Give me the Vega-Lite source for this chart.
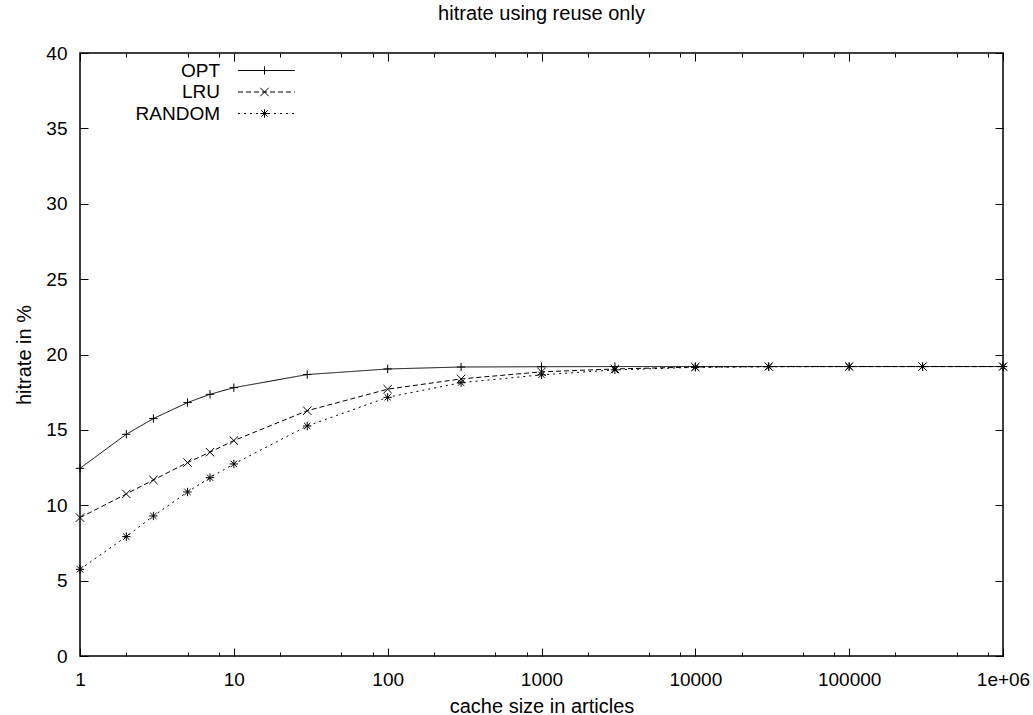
{
  "$schema": "https://vega.github.io/schema/vega-lite/v6.json",
  "width": 923,
  "height": 603,
  "autosize": "none",
  "padding": {"left": 80, "top": 53, "right": 30, "bottom": 59},
  "background": "white",
  "title": {"text": "hitrate using reuse only", "fontSize": 20, "font": "Liberation Sans", "fontWeight": "normal", "offset": 20, "color": "#000", "anchor": "middle"},
  "config": {
    "view": {"stroke": "#000", "strokeWidth": 1.5},
    "font": "Liberation Sans",
    "axis": {"domain": false, "grid": false, "tickColor": "#000", "tickWidth": 1, "labelColor": "#000", "titleColor": "#000", "labelFontSize": 19, "titleFontSize": 20, "titleFontWeight": "normal", "labelFont": "Liberation Sans", "titleFont": "Liberation Sans"}
  },
  "data": {"values": [
    {"size": 1, "policy": "OPT", "hitrate": 12.45},
    {"size": 2, "policy": "OPT", "hitrate": 14.71},
    {"size": 3, "policy": "OPT", "hitrate": 15.75},
    {"size": 5, "policy": "OPT", "hitrate": 16.81},
    {"size": 7, "policy": "OPT", "hitrate": 17.36},
    {"size": 10, "policy": "OPT", "hitrate": 17.8},
    {"size": 30, "policy": "OPT", "hitrate": 18.67},
    {"size": 100, "policy": "OPT", "hitrate": 19.04},
    {"size": 300, "policy": "OPT", "hitrate": 19.17},
    {"size": 1000, "policy": "OPT", "hitrate": 19.19},
    {"size": 3000, "policy": "OPT", "hitrate": 19.2},
    {"size": 10000, "policy": "OPT", "hitrate": 19.2},
    {"size": 30000, "policy": "OPT", "hitrate": 19.2},
    {"size": 100000, "policy": "OPT", "hitrate": 19.2},
    {"size": 300000, "policy": "OPT", "hitrate": 19.2},
    {"size": 1000000, "policy": "OPT", "hitrate": 19.2},
    {"size": 1, "policy": "LRU", "hitrate": 9.18},
    {"size": 2, "policy": "LRU", "hitrate": 10.75},
    {"size": 3, "policy": "LRU", "hitrate": 11.68},
    {"size": 5, "policy": "LRU", "hitrate": 12.83},
    {"size": 7, "policy": "LRU", "hitrate": 13.52},
    {"size": 10, "policy": "LRU", "hitrate": 14.29},
    {"size": 30, "policy": "LRU", "hitrate": 16.27},
    {"size": 100, "policy": "LRU", "hitrate": 17.7},
    {"size": 300, "policy": "LRU", "hitrate": 18.38},
    {"size": 1000, "policy": "LRU", "hitrate": 18.85},
    {"size": 3000, "policy": "LRU", "hitrate": 19.04},
    {"size": 10000, "policy": "LRU", "hitrate": 19.17},
    {"size": 30000, "policy": "LRU", "hitrate": 19.2},
    {"size": 100000, "policy": "LRU", "hitrate": 19.2},
    {"size": 300000, "policy": "LRU", "hitrate": 19.2},
    {"size": 1000000, "policy": "LRU", "hitrate": 19.2},
    {"size": 1, "policy": "RANDOM", "hitrate": 5.75},
    {"size": 2, "policy": "RANDOM", "hitrate": 7.92},
    {"size": 3, "policy": "RANDOM", "hitrate": 9.29},
    {"size": 5, "policy": "RANDOM", "hitrate": 10.88},
    {"size": 7, "policy": "RANDOM", "hitrate": 11.83},
    {"size": 10, "policy": "RANDOM", "hitrate": 12.74},
    {"size": 30, "policy": "RANDOM", "hitrate": 15.26},
    {"size": 100, "policy": "RANDOM", "hitrate": 17.16},
    {"size": 300, "policy": "RANDOM", "hitrate": 18.13},
    {"size": 1000, "policy": "RANDOM", "hitrate": 18.65},
    {"size": 3000, "policy": "RANDOM", "hitrate": 18.98},
    {"size": 10000, "policy": "RANDOM", "hitrate": 19.15},
    {"size": 30000, "policy": "RANDOM", "hitrate": 19.19},
    {"size": 100000, "policy": "RANDOM", "hitrate": 19.2},
    {"size": 300000, "policy": "RANDOM", "hitrate": 19.2},
    {"size": 1000000, "policy": "RANDOM", "hitrate": 19.2}
  ]},
  "resolve": {"axis": {"x": "independent", "y": "independent"}},
  "layer": [
    {
      "mark": {"type": "line", "color": "#000", "strokeWidth": 1},
      "encoding": {
        "x": {
          "field": "size", "type": "quantitative",
          "scale": {"type": "log", "domain": [1, 1000000]},
          "axis": {
            "orient": "bottom",
            "values": [1, 2, 5, 8, 10, 20, 50, 80, 100, 200, 500, 800, 1000, 2000, 5000, 8000, 10000, 20000, 50000, 80000, 100000, 200000, 500000, 800000, 1000000],
            "labelExpr": "datum.value == 1000000 ? '1e+06' : (indexof([1,10,100,1000,10000,100000], datum.value) >= 0 ? format(datum.value, 'd') : '')",
            "tickSize": {"condition": {"test": "indexof([1,10,100,1000,10000,100000,1000000], datum.value) >= 0", "value": -8}, "value": -4},
            "labelPadding": 22,
            "labelFlush": false,
            "labelOverlap": false,
            "title": "cache size in articles",
            "titlePadding": 3
          }
        },
        "y": {
          "field": "hitrate", "type": "quantitative",
          "scale": {"domain": [0, 40]},
          "axis": {
            "orient": "left",
            "values": [0, 5, 10, 15, 20, 25, 30, 35, 40],
            "tickSize": -8,
            "labelPadding": 21,
            "labelOverlap": false,
            "title": "hitrate in %",
            "titlePadding": 11
          }
        },
        "strokeDash": {
          "field": "policy", "type": "nominal",
          "scale": {"domain": ["OPT", "LRU", "RANDOM"], "range": [[1, 0], [5, 3], [2, 4]]},
          "legend": {
            "orient": "none", "legendX": 177, "legendY": 8, "title": null,
            "symbolType": "M-6,0H6", "symbolSize": 90, "symbolStrokeColor": "#000", "symbolStrokeWidth": 1,
            "labelFontSize": 19, "labelFont": "Liberation Sans", "labelColor": "#000",
            "labelAlign": "right", "labelOffset": -56, "padding": 0, "rowPadding": 1.5
          }
        }
      }
    },
    {
      "mark": {"type": "point", "filled": false, "color": "#000", "strokeWidth": 1, "size": 70, "opacity": 1},
      "encoding": {
        "x": {
          "field": "size", "type": "quantitative",
          "scale": {"type": "log", "domain": [1, 1000000]},
          "axis": {
            "orient": "top",
            "values": [1, 2, 5, 8, 10, 20, 50, 80, 100, 200, 500, 800, 1000, 2000, 5000, 8000, 10000, 20000, 50000, 80000, 100000, 200000, 500000, 800000, 1000000],
            "tickSize": {"condition": {"test": "indexof([1,10,100,1000,10000,100000,1000000], datum.value) >= 0", "value": -8}, "value": -4},
            "labels": false,
            "title": null
          }
        },
        "y": {
          "field": "hitrate", "type": "quantitative",
          "scale": {"domain": [0, 40]},
          "axis": {
            "orient": "right",
            "values": [0, 5, 10, 15, 20, 25, 30, 35, 40],
            "tickSize": -8,
            "labels": false,
            "title": null
          }
        },
        "shape": {
          "field": "policy", "type": "nominal",
          "sort": ["OPT", "LRU", "RANDOM"],
          "scale": {"range": ["M-1,0H1M0,-1V1", "M-1,-1L1,1M-1,1L1,-1", "M-1,0H1M0,-1V1M-0.75,-0.75L0.75,0.75M-0.75,0.75L0.75,-0.75"]},
          "legend": {
            "orient": "none", "legendX": 175, "legendY": 8, "title": null,
            "symbolSize": 70, "symbolStrokeColor": "#000", "symbolFillColor": "transparent", "symbolStrokeWidth": 1,
            "labelFontSize": 19, "labelFont": "Liberation Sans", "labelOpacity": 0,
            "labelAlign": "right", "labelOffset": -56, "padding": 0, "rowPadding": 1.5
          }
        }
      }
    }
  ]
}
